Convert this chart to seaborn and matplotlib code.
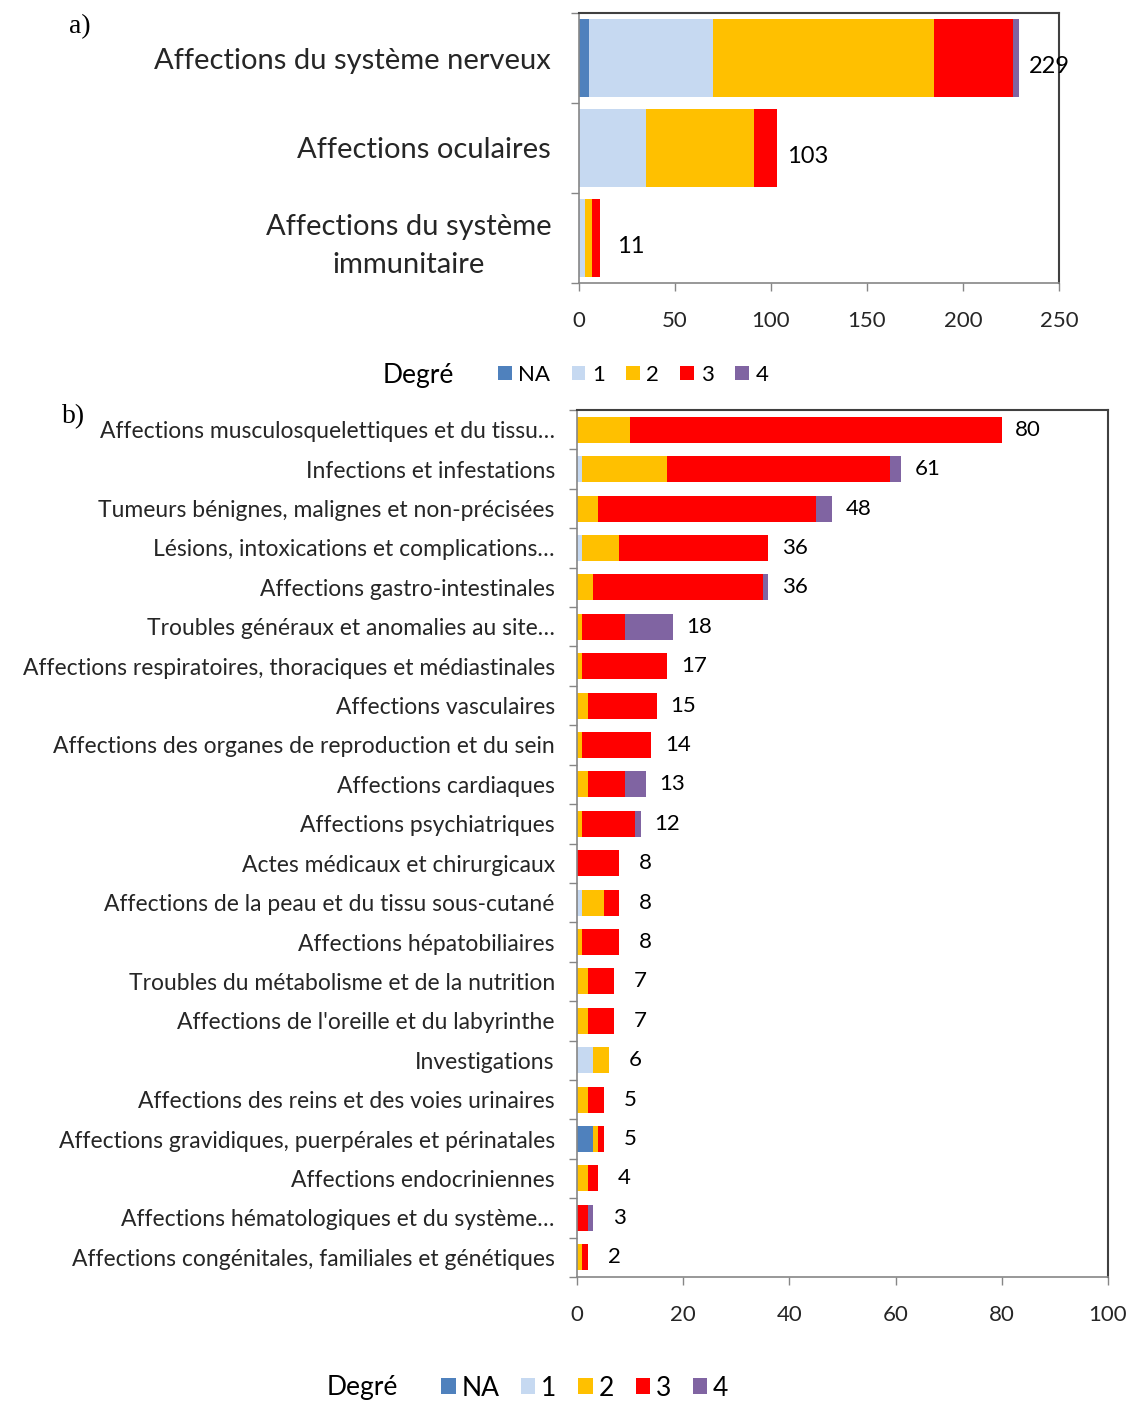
import numpy as np
import pandas as pd
import matplotlib
matplotlib.use("Agg")
import matplotlib.pyplot as plt
from matplotlib.patches import Patch
from matplotlib.ticker import FixedLocator
import seaborn as sns

# ---------------- data ----------------
levels = ["NA", "1", "2", "3", "4"]
level_colors = ["#4F81BD", "#C6D9F1", "#FFC000", "#FF0000", "#8064A2"]

top_categories = ["Affections du système nerveux",
                  "Affections oculaires",
                  "Affections du système\nimmunitaire"]
top_na = [5, 0, 0]
top_g1 = [65, 35, 3]
top_g2 = [115, 56, 4]
top_g3 = [41, 12, 4]
top_g4 = [3, 0, 0]

bot_categories = [
    "Affections musculosquelettiques et du tissu…",
    "Infections et infestations",
    "Tumeurs bénignes, malignes et non-précisées",
    "Lésions, intoxications et complications…",
    "Affections gastro-intestinales",
    "Troubles généraux et anomalies au site…",
    "Affections respiratoires, thoraciques et médiastinales",
    "Affections vasculaires",
    "Affections des organes de reproduction et du sein",
    "Affections cardiaques",
    "Affections psychiatriques",
    "Actes médicaux et chirurgicaux",
    "Affections de la peau et du tissu sous-cutané",
    "Affections hépatobiliaires",
    "Troubles du métabolisme et de la nutrition",
    "Affections de l'oreille et du labyrinthe",
    "Investigations",
    "Affections des reins et des voies urinaires",
    "Affections gravidiques, puerpérales et périnatales",
    "Affections endocriniennes",
    "Affections hématologiques et du système…",
    "Affections congénitales, familiales et génétiques",
]
bot_na = [0, 0, 0, 0, 0, 0, 0, 0, 0, 0, 0, 0, 0, 0, 0, 0, 0, 0, 3, 0, 0, 0]
bot_g1 = [0, 1, 0, 1, 0, 0, 0, 0, 0, 0, 0, 0, 1, 0, 0, 0, 3, 0, 0, 0, 0, 0]
bot_g2 = [10, 16, 4, 7, 3, 1, 1, 2, 1, 2, 1, 0, 4, 1, 2, 2, 3, 2, 1, 2, 0, 1]
bot_g3 = [70, 42, 41, 28, 32, 8, 16, 13, 13, 7, 10, 8, 3, 7, 5, 5, 0, 3, 1, 2, 2, 1]
bot_g4 = [0, 2, 3, 0, 1, 9, 0, 0, 0, 4, 1, 0, 0, 0, 0, 0, 0, 0, 0, 0, 1, 0]

top_ticks = [0, 50, 100, 150, 200, 250]
bot_ticks = [0, 20, 40, 60, 80, 100]

# ---------------- style ----------------
sns.set_theme(style="white")
plt.rcParams["font.family"] = ["Lato", "DejaVu Sans"]
plt.rcParams["text.color"] = "#000000"

W, H = 1130, 1402
fig = plt.figure(figsize=(W / 100, H / 100), dpi=100)


def fx(px):
    return px / W


def fy(py):
    return 1 - py / H


ax_top = fig.add_axes([fx(579), fy(283), fx(1059) - fx(579), fy(13) - fy(283)])
ax_bot = fig.add_axes([fx(577), fy(1277), fx(1108) - fx(577), fy(410) - fy(1277)])

AXIS_GREY = "#868686"
BOX_DARK = "#404040"


def stacked(ax, cats, parts, width):
    cums = np.cumsum(np.array(parts, dtype=float), axis=0)
    for cum, color in reversed(list(zip(cums, level_colors))):
        df = pd.DataFrame({"cat": cats, "val": cum})
        sns.barplot(data=df, x="val", y="cat", orient="h", order=cats,
                    color=color, width=width, linewidth=0, errorbar=None,
                    saturation=1, ax=ax)
    return cums[-1]


def style_axes(ax, n, xmax, ticks, ytick_size, xtick_size, ypad, xpad):
    ax.set_xlim(0, xmax)
    ax.set_ylim(n - 0.5, -0.5)
    ax.set_xlabel("")
    ax.set_ylabel("")
    ax.xaxis.set_major_locator(FixedLocator(ticks))
    ax.set_xticklabels([str(t) for t in ticks], fontsize=xtick_size)
    ax.yaxis.set_minor_locator(FixedLocator(np.arange(-0.5, n, 1.0)))
    ax.tick_params(axis="y", which="major", length=0, pad=ypad, labelsize=ytick_size)
    ax.tick_params(axis="y", which="minor", length=6, width=1, color=AXIS_GREY, direction="out", left=True)
    ax.tick_params(axis="x", which="major", length=6, width=1, color=AXIS_GREY, direction="out",
                   bottom=True, pad=xpad)
    for side in ["left", "bottom"]:
        ax.spines[side].set_color(AXIS_GREY)
        ax.spines[side].set_linewidth(1.2)
    for side in ["top", "right"]:
        ax.spines[side].set_color(BOX_DARK)
        ax.spines[side].set_linewidth(1.5)
    ax.grid(False)


# ---- top panel ----
top_tot = stacked(ax_top, top_categories, [top_na, top_g1, top_g2, top_g3, top_g4], 0.87)
style_axes(ax_top, len(top_categories), 250, top_ticks, 21, 16, 20, 14)
for lab in ax_top.get_yticklabels():
    lab.set_multialignment("center")
    lab.set_linespacing(1.55)
for i, t in enumerate(top_tot):
    ax_top.annotate(f"{int(t)}", xy=(t, i), xytext=(22, -6), textcoords="offset points",
                    ha="center", va="center", fontsize=17)

# ---- bottom panel ----
bot_tot = stacked(ax_bot, bot_categories, [bot_na, bot_g1, bot_g2, bot_g3, bot_g4], 0.66)
style_axes(ax_bot, len(bot_categories), 100, bot_ticks, 16.5, 16, 16, 14)
for i, t in enumerate(bot_tot):
    ax_bot.annotate(f"{int(t)}", xy=(t, i), xytext=(19, 0), textcoords="offset points",
                    ha="center", va="center", fontsize=16)

# ---- legends ----
handles = [Patch(facecolor=c, edgecolor="none", label=l) for l, c in zip(levels, level_colors)]

fig.text(fx(418), fy(375), "Degré", ha="center", va="center", fontsize=19)
fig.legend(handles=handles, loc="center left", bbox_to_anchor=(fx(498), fy(375)),
           ncol=5, frameon=False, fontsize=16, handlelength=0.62, handleheight=0.62,
           handletextpad=0.3, columnspacing=0.95, borderpad=0, borderaxespad=0)

fig.text(fx(362), fy(1388), "Degré", ha="center", va="center", fontsize=19)
fig.legend(handles=handles, loc="center left", bbox_to_anchor=(fx(441), fy(1388)),
           ncol=5, frameon=False, fontsize=19, handlelength=0.55, handleheight=0.55,
           handletextpad=0.22, columnspacing=0.82, borderpad=0, borderaxespad=0)

# ---- panel letters ----
fig.text(fx(69), fy(27), "a)", ha="left", va="center", fontsize=20, family=["Liberation Serif"])
fig.text(fx(62), fy(417), "b)", ha="left", va="center", fontsize=20, family=["Liberation Serif"])

fig.savefig("out.png", dpi=100)
